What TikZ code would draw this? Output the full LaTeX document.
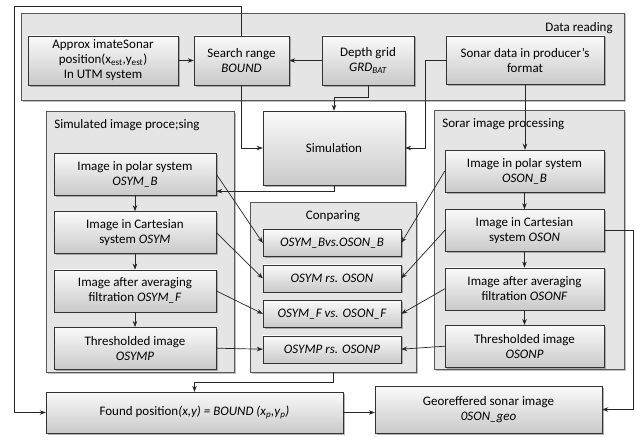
\documentclass[tikz,border=0pt]{standalone}
\usepackage{fontspec}
\setmainfont{Carlito}
\usetikzlibrary{positioning,arrows.meta,shadows}
\tikzset{
    groupbox/.style={rectangle, draw=gray!70!black, fill=gray!20, drop shadow={shadow xshift=1.5pt, shadow yshift=-1.5pt, opacity=0.5}},
    stepbox/.style={rectangle, draw=gray!40!black, top color=gray!4, bottom color=gray!42, align=center, minimum width=162pt, minimum height=42pt, inner sep=1pt, drop shadow={shadow xshift=1.5pt, shadow yshift=-1.5pt, opacity=0.6}},
    cmpbox/.style={stepbox, minimum width=138pt, minimum height=27pt, font=\fontsize{13}{15}\selectfont\itshape},
    arr/.style={-{Stealth[length=6pt,width=4.5pt]}, draw=black!85, line width=0.7pt}
    }

\begin{document}
\begin{tikzpicture}[x=1pt,y=1pt,font=\fontsize{13}{15}\selectfont]
        \useasboundingbox (0,0) rectangle (636,-436);
        % groups
        \node[groupbox, minimum width=603pt, minimum height=87pt] (reading) at (322.5,-56.5) {};
        \node[anchor=north east] at ([xshift=-8pt,yshift=-6pt]reading.north east) {Data reading};
        \node[groupbox, minimum width=188pt, minimum height=261pt] (simframe) at (140,-241.5) {};
        \node[anchor=north west] at ([xshift=5pt,yshift=-5pt]simframe.north west) {Simulated image proce;sing};
        \node[groupbox, minimum width=166pt, minimum height=170pt] (cmpframe) at (333,-287) {};
        \node[anchor=north] at ([yshift=-5pt]cmpframe.north) {Conparing};
        \node[groupbox, minimum width=190pt, minimum height=259pt] (sonframe) at (529,-239.5) {};
        \node[anchor=north west] at ([xshift=5pt,yshift=-5pt]sonframe.north west) {Sorar image processing};

        % data reading
        \node[stepbox, minimum width=150pt, minimum height=49pt] (approx) at (103,-60.5) {Approx imateSonar\\position(x\textsubscript{est},y\textsubscript{est})\\In UTM system};
        \node[stepbox, minimum width=95pt, minimum height=49pt] (bound) at (241.5,-60.5) {Search range\\\textit{BOUND}};
        \node[stepbox, minimum width=92pt, minimum height=49pt] (depth) at (368,-60.5) {Depth grid\\\textit{GRD\textsubscript{BAT}}};
        \node[stepbox, minimum width=158pt, minimum height=48pt] (sonar) at (525,-60) {Sonar data in producer's\\format};
        \node[stepbox, minimum width=142pt, minimum height=74pt] (sim) at (334,-148) {Simulation};

        % simulated image
        \node[stepbox] (osymb) at (135,-174) {Image in polar system\\\textit{OSYM\_B}};
        \node[stepbox, below=16pt of osymb] (osym) {Image in Cartesian\\system \textit{OSYM}};
        \node[stepbox, below=16pt of osym] (osymf) {Image after averaging\\filtration \textit{OSYM\_F}};
        \node[stepbox, below=15pt of osymf] (osymp) {Thresholded image\\\textit{OSYMP}};

        % comparing
        \node[cmpbox] (cmpb) at (332,-243) {OSYM\_Bvs.OSON\_B};
        \node[cmpbox, below=8pt of cmpb] (cmp) {OSYM rs. OSON};
        \node[cmpbox, below=8pt of cmp] (cmpf) {OSYM\_F vs. OSON\_F};
        \node[cmpbox, below=8pt of cmpf] (cmpp) {OSYMP rs. OSONP};

        % sonar image
        \node[stepbox, minimum width=159pt] (osonb) at (524.5,-171) {Image in polar system\\\textit{OSON\_B}};
        \node[stepbox, minimum width=159pt, below=17pt of osonb] (oson) {Image in Cartesian\\system \textit{OSON}};
        \node[stepbox, minimum width=159pt, below=16pt of oson] (osonf) {Image after averaging\\filtration \textit{OSONF}};
        \node[stepbox, minimum width=159pt, below=15pt of osonf] (osonp) {Thresholded image\\\textit{OSONP}};

        % results
        \node[stepbox, minimum width=297pt, minimum height=41pt] (found) at (194.5,-412.5) {Found position\textit{(x,y) = BOUND (x\textsubscript{p},y\textsubscript{p})}};
        \node[stepbox, minimum width=227pt, minimum height=47pt] (georef) at (488.5,-409.5) {Georeffered sonar image\\\textit{0SON\_geo}};
        \coordinate (topleft) at (14,-6);

        \draw[arr] (approx) -- (bound);
        \draw[arr] (depth) -- (bound);
        \draw[arr] (bound.south) |- (sim.west);
        \draw[arr] (bound.north) |- (topleft) |- (found.west);
        \draw[arr] (depth.south) --++ (0,-12) -| (sim.north);
        \draw[arr] (sonar.west) --++ (-20,0) |- (sim.east);
        \draw[arr] (sonar.south) -- (sonar.south |- osonb.north);
        \draw[arr] (sim.south) |- ([yshift=4pt]osymb.south east);
        \draw[arr] (osymb) -- (osym);
        \draw[arr] (osym) -- (osymf);
        \draw[arr] (osymf) -- (osymp);
        \draw[arr] (osonb) -- (oson);
        \draw[arr] (oson) -- (osonf);
        \draw[arr] (osonf) -- (osonp);
        \draw[arr] (osymb.east) -- (cmpb.west);
        \draw[arr] (osym.east) -- (cmp.west);
        \draw[arr] (osymf.east) -- (cmpf.west);
        \draw[arr] (osymp.east) -- (cmpp.west);
        \draw[arr] (osonb.west) -- (cmpb.east);
        \draw[arr] (oson.west) -- (cmp.east);
        \draw[arr] (osonf.west) -- (cmpf.east);
        \draw[arr] (osonp.west) -- (cmpp.east);
        \draw[arr] (cmpframe.south) --++ (0,-10) -| (found.north);
        \draw[arr] (found.east) -- (georef.west |- found.east);
        \draw[arr] (oson.east) --++ (29,0) |- (georef.east);
\end{tikzpicture}
\end{document}
